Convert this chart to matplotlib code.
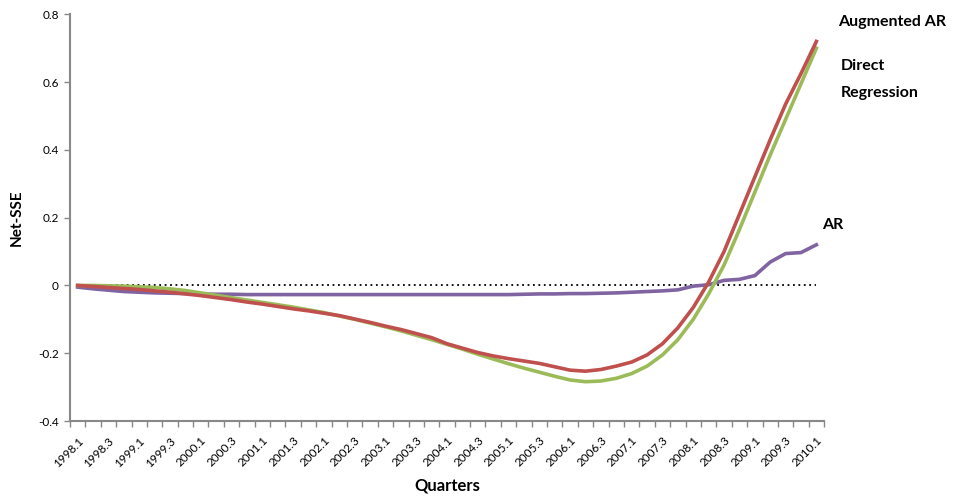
import numpy as np
import matplotlib
matplotlib.use("Agg")
from matplotlib import pyplot as plt
from matplotlib.ticker import FixedLocator, NullFormatter

plt.rcParams['font.family'] = ['Lato', 'DejaVu Sans']

# quarters 1998.1 .. 2010.1
quarters = [f"{y}.{q}" for y in range(1998, 2011) for q in range(1, 5)][:49]

augmented_ar = [0.0, -0.003, -0.006, -0.009, -0.012, -0.016, -0.02, -0.025, -0.03, -0.036,
                -0.042, -0.049, -0.055, -0.062, -0.069, -0.075, -0.082, -0.089, -0.099, -0.109,
                -0.12, -0.13, -0.142, -0.154, -0.172, -0.185, -0.198, -0.208, -0.216, -0.223,
                -0.23, -0.24, -0.25, -0.253, -0.248, -0.238, -0.226, -0.205, -0.172, -0.125,
                -0.065, 0.01, 0.1, 0.21, 0.32, 0.43, 0.535, 0.625, 0.72]

direct_regression = [0.0, 0.0, -0.001, -0.002, -0.004, -0.006, -0.01, -0.015, -0.022, -0.029,
                     -0.036, -0.043, -0.05, -0.057, -0.064, -0.072, -0.08, -0.09, -0.1, -0.111,
                     -0.122, -0.134, -0.147, -0.16, -0.174, -0.188, -0.203, -0.217, -0.231, -0.244,
                     -0.256, -0.268, -0.279, -0.284, -0.282, -0.274, -0.26, -0.238, -0.205, -0.16,
                     -0.1, -0.025, 0.06, 0.165, 0.275, 0.385, 0.49, 0.595, 0.70]

ar = [-0.005, -0.01, -0.014, -0.018, -0.02, -0.022, -0.023, -0.024, -0.025, -0.026,
      -0.026, -0.027, -0.027, -0.027, -0.027, -0.027, -0.027, -0.027, -0.027, -0.027,
      -0.027, -0.027, -0.027, -0.027, -0.027, -0.027, -0.027, -0.027, -0.027, -0.026,
      -0.025, -0.025, -0.024, -0.024, -0.023, -0.022, -0.02, -0.018, -0.016, -0.013,
      -0.002, 0.002, 0.015, 0.018, 0.029, 0.069, 0.094, 0.097, 0.12]

x = np.arange(len(quarters))

fig = plt.figure(figsize=(9.57, 4.97), dpi=100)
ax = fig.add_axes([0.0731, 0.1529, 0.788, 0.8183])

ax.plot([x[0], x[-1]], [0, 0], color='black', lw=1.3, ls=(0, (1, 2)), zorder=1)
ax.plot(x, ar, color='#8064A2', lw=2.6, zorder=2)
ax.plot(x, direct_regression, color='#9BBB59', lw=2.6, zorder=3)
ax.plot(x, augmented_ar, color='#C0504D', lw=2.6, zorder=4)

ax.set_xlim(-0.5, len(quarters) - 0.5)
ax.set_ylim(-0.4, 0.8)
ax.set_yticks(np.arange(-0.4, 0.81, 0.2))
ax.set_yticklabels(['-0.4', '-0.2', '0', '0.2', '0.4', '0.6', '0.8'], fontsize=8.5)

ax.set_xticks(x[::2])
ax.set_xticklabels(quarters[::2], rotation=45, ha='right', va='top',
                   rotation_mode='anchor', fontsize=8.5)
ax.xaxis.set_minor_locator(FixedLocator(np.arange(-0.5, len(quarters), 1)))
ax.xaxis.set_minor_formatter(NullFormatter())
ax.tick_params(axis='x', which='major', length=0, pad=10)
ax.tick_params(axis='x', which='minor', length=4, width=1, color='#888888', direction='out')
ax.tick_params(axis='y', length=4, width=1, color='#888888', direction='out', pad=4)

for side in ['top', 'right']:
    ax.spines[side].set_visible(False)
for side in ['left', 'bottom']:
    ax.spines[side].set_color('#888888')
    ax.spines[side].set_linewidth(1.5)

ax.set_xlabel('Quarters', fontsize=12, fontweight='bold', labelpad=6)
ax.set_ylabel('Net-SSE', fontsize=11, fontweight='bold', labelpad=10)

ax.text(49.4, 0.778, 'Augmented AR', fontsize=11.5, fontweight='bold', va='center', clip_on=False)
ax.text(49.6, 0.648, 'Direct', fontsize=11.5, fontweight='bold', va='center', clip_on=False)
ax.text(49.6, 0.568, 'Regression', fontsize=11.5, fontweight='bold', va='center', clip_on=False)
ax.text(48.4, 0.178, 'AR', fontsize=11.5, fontweight='bold', va='center', clip_on=False)

fig.savefig('out.png', dpi=100)
